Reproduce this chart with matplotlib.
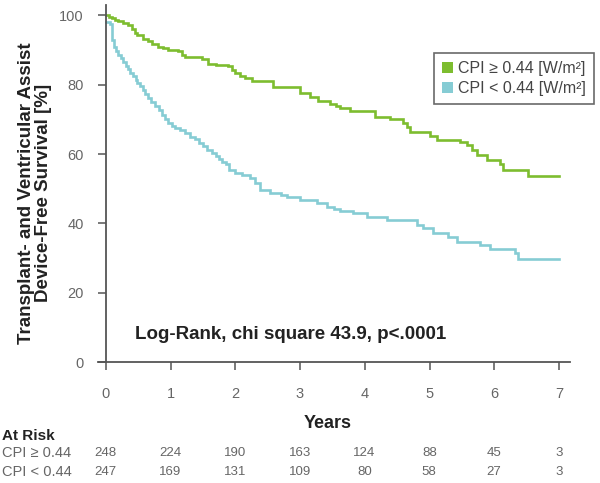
import matplotlib
matplotlib.use("Agg")
import matplotlib.pyplot as plt
from matplotlib.patches import Patch

plt.rcParams['font.family'] = ['Liberation Sans', 'DejaVu Sans']

# ---- data ----
hi_years = [0, 0.05, 0.09, 0.14, 0.19, 0.27, 0.34, 0.40, 0.45, 0.49, 0.57, 0.65, 0.72, 0.80,
            0.88, 0.96, 1.11, 1.18, 1.22, 1.48, 1.58, 1.70, 1.89, 1.95, 1.99, 2.08, 2.15,
            2.26, 2.58, 3.00, 3.15, 3.28, 3.46, 3.55, 3.62, 3.77, 4.16, 4.39, 4.59, 4.65,
            4.70, 5.00, 5.12, 5.47, 5.58, 5.65, 5.73, 5.89, 6.09, 6.14, 6.52, 7.0]
hi_surv = [100, 99.6, 99.2, 98.8, 98.4, 97.8, 97.2, 96.0, 95.0, 94.3, 93.3, 92.5, 91.7, 91.0,
           90.5, 90.0, 89.6, 88.6, 87.9, 87.3, 86.0, 85.6, 85.3, 84.3, 83.5, 82.6, 82.0,
           81.0, 79.2, 77.7, 76.5, 75.4, 74.5, 73.9, 73.4, 72.3, 70.8, 70.0, 69.0, 67.8,
           66.5, 65.2, 64.0, 63.5, 62.7, 61.2, 59.8, 58.4, 57.0, 55.5, 53.8, 53.8]

lo_years = [0, 0.06, 0.09, 0.12, 0.16, 0.19, 0.23, 0.27, 0.31, 0.34, 0.38, 0.42, 0.46, 0.49,
            0.53, 0.57, 0.61, 0.65, 0.70, 0.76, 0.82, 0.87, 0.92, 0.96, 1.02, 1.07, 1.15,
            1.22, 1.30, 1.38, 1.44, 1.50, 1.57, 1.64, 1.70, 1.75, 1.80, 1.85, 1.90, 1.99,
            2.10, 2.23, 2.30, 2.38, 2.53, 2.70, 2.80, 3.00, 3.26, 3.42, 3.52, 3.62, 3.82,
            4.03, 4.34, 4.81, 4.90, 5.05, 5.29, 5.43, 5.78, 5.94, 6.32, 6.37, 7.0]
lo_surv = [98.0, 97.4, 93.0, 91.0, 89.8, 88.7, 87.6, 86.5, 85.4, 84.4, 83.4, 82.5, 81.5, 80.6,
           79.5, 78.5, 77.4, 76.3, 75.0, 73.8, 72.6, 71.4, 70.2, 69.0, 68.2, 67.6, 66.8,
           66.0, 65.0, 64.2, 63.2, 62.3, 61.3, 60.4, 59.3, 58.5, 57.7, 57.0, 55.5, 54.6,
           53.9, 53.2, 51.7, 49.7, 48.8, 48.2, 47.7, 46.8, 46.0, 44.8, 44.2, 43.6, 43.0,
           41.9, 41.0, 39.6, 38.7, 37.3, 36.1, 34.7, 33.8, 32.7, 31.5, 29.8, 29.8]

series_labels = ["CPI \u2265 0.44 [W/m\u00b2]", "CPI < 0.44 [W/m\u00b2]"]
risk_labels = ["CPI \u2265 0.44", "CPI < 0.44"]
risk_hi = [248, 224, 190, 163, 124, 88, 45, 3]
risk_lo = [247, 169, 131, 109, 80, 58, 27, 3]
x_ticks = [0, 1, 2, 3, 4, 5, 6, 7]
y_ticks = [0, 20, 40, 60, 80, 100]

green = "#7dbd2f"
blue = "#86ccd4"
gray = "#666666"
dark = "#222222"

fig = plt.figure(figsize=(6, 4.83), dpi=100)
ax = fig.add_axes([98/600, 121/483, 472/600, 357/483])

ax.step(hi_years, hi_surv, where='post', color=green, lw=1.9, solid_joinstyle='miter')
ax.step(lo_years, lo_surv, where='post', color=blue, lw=1.9, solid_joinstyle='miter')

ax.set_xlim(-0.12, 7.17)
ax.set_ylim(0, 103)
ax.spines['top'].set_visible(False)
ax.spines['right'].set_visible(False)
ax.spines['left'].set_position(('data', 0))
for s in ('left', 'bottom'):
    ax.spines[s].set_color('#555555')
    ax.spines[s].set_linewidth(1.3)

ax.set_xticks(x_ticks)
ax.set_yticks(y_ticks)
ax.tick_params(axis='both', direction='out', length=6, width=1.1, color='#555555',
               labelcolor=gray, labelsize=10.5, pad=10)
ax.tick_params(axis='x', pad=12)

ax.text(3.43, -17.6, "Years", ha='center', va='center', fontsize=13, fontweight='bold',
        color=dark, clip_on=False)

fig.text(35/600, 1 - 193/483, "Transplant- and Ventricular Assist\nDevice-Free Survival [%]",
         rotation=90, ha='center', va='center', fontsize=13.5, fontweight='bold',
         color=dark, linespacing=0.95)

ax.text(0.45, 7.8, "Log-Rank, chi square 43.9, p<.0001", ha='left', va='center',
        fontsize=13.5, fontweight='bold', color=dark)

handles = [Patch(facecolor=green, edgecolor='none'), Patch(facecolor=blue, edgecolor='none')]
leg = fig.legend(handles, series_labels, loc='upper left',
                 bbox_to_anchor=(434/600, 1 - 53/483), fontsize=11.5,
                 frameon=True, fancybox=False, handlelength=0.7, handleheight=0.7,
                 handletextpad=0.3, borderpad=0.5, labelspacing=0.3,
                 borderaxespad=0)
leg.get_frame().set_edgecolor('#444444')
leg.get_frame().set_linewidth(1.2)
for t in leg.get_texts():
    t.set_color('#444444')

# At risk table
fig.text(2/600, 1 - 436/483, "At Risk", ha='left', va='center', fontsize=11,
         fontweight='bold', color=dark)
rows_y = [453, 472]
for lab, vals, yy in zip(risk_labels, [risk_hi, risk_lo], rows_y):
    fig.text(2/600, 1 - yy/483, lab, ha='left', va='center', fontsize=10.5, color=gray)
    for xv, v in zip(x_ticks, vals):
        xfig = (98 + (xv + 0.12) * 64.7) / 600
        fig.text(xfig, 1 - yy/483, str(v), ha='center', va='center', fontsize=9.5, color=gray)

fig.savefig("out.png", dpi=100)
